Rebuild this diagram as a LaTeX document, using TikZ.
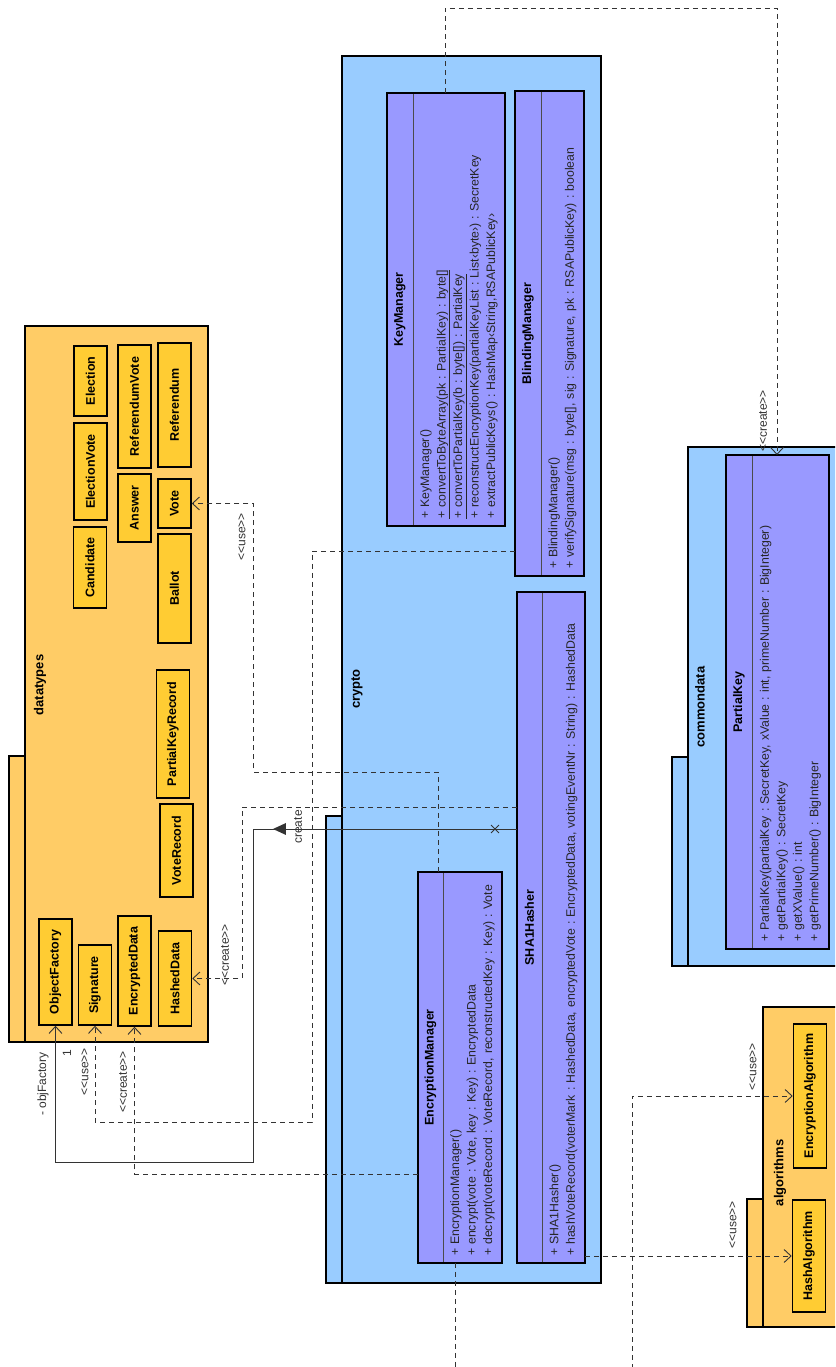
\documentclass[tikz,border=0pt]{standalone}
\usepackage{fontspec}
\setmainfont{Liberation Sans}
\newfontfamily\lblfont{Liberation Sans}
\usepackage{tikz}
\usetikzlibrary{arrows.meta,positioning,shapes.misc}
\definecolor{pkgorange}{HTML}{FFCC66}
\definecolor{clsyellow}{HTML}{FFCC33}
\definecolor{pkgblue}{HTML}{99CCFF}
\definecolor{clsviolet}{HTML}{9999FF}
\definecolor{linegray}{HTML}{333333}
\frenchspacing

\begin{document}
\begin{tikzpicture}[
  x=1pt,y=1pt,rotate=90,transform shape,
  font=\fontsize{12.3}{16.5}\selectfont,
  pkgbody/.style={draw=black,line width=1.6pt,anchor=south west,inner sep=0pt,outer sep=0pt},
  pkgtab/.style={pkgbody,minimum height=16pt},
  pkgname/.style={font=\fontsize{13}{15}\selectfont\bfseries},
  dtbox/.style={draw=black,line width=1.6pt,fill=clsyellow,minimum height=33pt,inner sep=0pt,font=\fontsize{12.5}{14}\selectfont\bfseries},
  hdr/.style={draw=black!70,line width=0.8pt,fill=clsviolet,minimum height=26pt,inner sep=0pt,outer sep=0pt,anchor=north west,font=\fontsize{12.5}{14}\selectfont\bfseries},
  ops/.style={draw=black!70,line width=0.8pt,fill=clsviolet,inner xsep=7pt,inner ysep=0pt,outer sep=0pt,anchor=north west,align=left,text=black!85},
  clsframe/.style={draw=black,line width=1.6pt},
  dep/.style={draw=linegray,line width=0.9pt,dash pattern=on 5pt off 4pt,-{Straight Barb[length=7pt,width=13pt]}},
  assoc/.style={draw=linegray,line width=0.9pt,-{Straight Barb[length=7pt,width=13pt]}},
  lbl/.style={font=\lblfont\fontsize{12}{14}\selectfont,text=linegray,inner sep=1pt}
]
\clip (0,0) rectangle (1367,835);
\fill[white] (0,0) rectangle (1367,835);

% packages
\node[pkgtab,fill=pkgorange,minimum width=286pt] (dttab) at (325,810) {};
\node[pkgbody,fill=pkgorange,minimum width=716pt,minimum height=183pt] (datatypes) at (325,627) {};
\node[pkgname] (dtname) at (682,795) {datatypes};
\node[pkgtab,fill=pkgblue,minimum width=467pt] (crtab) at (84,493) {};
\node[pkgbody,fill=pkgblue,minimum width=1227pt,minimum height=259pt] (crypto) at (84,234) {};
\node[pkgname] (crname) at (678,478) {crypto};
\node[pkgtab,fill=pkgblue,minimum width=209pt] (cdtab) at (401,147) {};
\node[pkgbody,fill=pkgblue,minimum width=519pt,minimum height=167pt] (commondata) at (401,-20) {};
\node[pkgname] (cdname) at (660,135) {commondata};
\node[pkgtab,fill=pkgorange,minimum width=128pt] (altab) at (40,72) {};
\node[pkgbody,fill=pkgorange,minimum width=320pt,minimum height=92pt] (algorithms) at (40,-20) {};
\node[pkgname] (alname) at (194,55) {algorithms};

% datatypes
\node[dtbox,minimum width=70pt] (election) at (986,744.5) {Election};
\node[dtbox,minimum width=97pt] (electionvote) at (895.5,744.5) {ElectionVote};
\node[dtbox,minimum width=81pt] (candidate) at (799.5,745) {Candidate};
\node[dtbox,minimum width=123pt] (refvote) at (960.5,700.5) {ReferendumVote};
\node[dtbox,minimum width=68pt] (answer) at (859,700.5) {Answer};
\node[dtbox,minimum width=124pt] (referendum) at (962,660.5) {Referendum};
\node[dtbox,minimum width=49pt] (vote) at (863.5,660.5) {Vote};
\node[dtbox,minimum width=109pt] (ballot) at (778.5,660.5) {Ballot};
\node[dtbox,minimum width=128pt] (pkrecord) at (633,662) {PartialKeyRecord};
\node[dtbox,minimum width=93pt] (voterecord) at (516.5,658.5) {VoteRecord};
\node[dtbox,minimum width=106pt] (objf) at (395,779.5) {ObjectFactory};
\node[dtbox,minimum width=80pt] (sig) at (382,740) {Signature};
\node[dtbox,minimum width=110pt] (encdata) at (396,700.5) {EncryptedData};
\node[dtbox,minimum width=95pt] (hashed) at (388.5,660) {HashedData};

% crypto
\node[hdr,minimum width=433pt] (kmhdr) at (841,448) {KeyManager};
\node[ops,text width=419pt,minimum height=92pt] (kmops) at (kmhdr.south west) {%
  \mbox{+ KeyManager()}\\
  \underline{+ convertToByteArray(pk : PartialKey) : byte[]}\\
  \underline{+ convertToPartialKey(b : byte[]) : PartialKey}\\
  \mbox{+ reconstructEncryptionKey(partialKeyList : List‹byte›) : SecretKey}\\
  \mbox{+ extractPublicKeys() : HashMap‹String,RSAPublicKey›}};
\draw[clsframe] (kmhdr.north west) rectangle (kmops.south east);

\node[hdr,minimum width=485pt] (bmhdr) at (791,320) {BlindingManager};
\node[ops,text width=471pt,minimum height=43pt] (bmops) at (bmhdr.south west) {%
  \mbox{+ BlindingManager()}\\
  \mbox{+ verifySignature(msg : byte[], sig : Signature, pk : RSAPublicKey) : boolean}};
\draw[clsframe] (bmhdr.north west) rectangle (bmops.south east);

\node[hdr,minimum width=671pt,minimum height=25pt] (shahdr) at (104,318) {SHA1Hasher};
\node[ops,text width=657pt,minimum height=43pt] (shaops) at (shahdr.south west) {%
  \mbox{+ SHA1Hasher()}\\
  \mbox{+ hashVoteRecord(voterMark : HashedData, encryptedVote : EncryptedData, votingEventNr : String) : HashedData}};
\draw[clsframe] (shahdr.north west) rectangle (shaops.south east);

\node[hdr,minimum width=391pt,minimum height=25pt] (emhdr) at (104,417) {EncryptionManager};
\node[ops,text width=377pt,minimum height=59pt] (emops) at (emhdr.south west) {%
  \mbox{+ EncryptionManager()}\\
  \mbox{+ encrypt(vote : Vote, key : Key) : EncryptedData}\\
  \mbox{+ decrypt(voteRecord : VoteRecord, reconstructedKey : Key) : Vote}};
\draw[clsframe] (emhdr.north west) rectangle (emops.south east);

% commondata
\node[hdr,minimum width=494pt] (pkhdr) at (418,109) {PartialKey};
\node[ops,text width=480pt,minimum height=77pt] (pkops) at (pkhdr.south west) {%
  \mbox{+ PartialKey(partialKey : SecretKey, xValue : int, primeNumber : BigInteger)}\\
  \mbox{+ getPartialKey() : SecretKey}\\
  \mbox{+ getXValue() : int}\\
  \mbox{+ getPrimeNumber() : BigInteger}};
\draw[clsframe] (pkhdr.north west) rectangle (pkops.south east);

% algorithms
\node[dtbox,minimum width=144pt] (encalg) at (271,25) {EncryptionAlgorithm};
\node[dtbox,minimum width=112pt] (hashalg) at (111,26) {HashAlgorithm};

% KeyManager creates PartialKey
\draw[dep] ([yshift=14pt]kmops.east) -- ++(85,0) |- ([yshift=13.5pt]pkops.east);
\node[lbl] (lkmpk) at (946,72) {<<create>>};

% association to ObjectFactory
\draw[assoc] ([xshift=98.5pt]shahdr.north) |- (205,582) |- (objf.west);
\node[cross out,draw=linegray,line width=0.9pt,minimum size=7pt,inner sep=0pt] (xmark) at (538,340) {};
\fill[linegray] (532,549) -- (544,549) -- (538,562) -- cycle;
\node[lbl] (lcreate) at (540,537) {create};
\node[lbl] (lobjf) at (283,792) {- objFactory};
\node[lbl] (lone) at (314,768) {1};

% EncryptionManager uses Vote
\draw[dep] ([yshift=-7.5pt]emhdr.east) -- ++(100,0) |- ([yshift=-62pt]vote.south) -- (vote.south);
\node[lbl] (lemvote) at (830,593) {<<use>>};

% BlindingManager uses Signature
\draw[dep] ([xshift=-217.5pt]bmhdr.north) |- (245,523) |- (sig.west);
\node[lbl] (lbmsig) at (295,750) {<<use>>};

% SHA1Hasher creates HashedData
\draw[dep] ([xshift=120.5pt]shahdr.north) |- ([yshift=-50pt]hashed.south) -- (hashed.south);
\node[lbl] (lshahd) at (412,610) {<<create>>};

% EncryptionManager creates EncryptedData
\draw[dep] ([xshift=-106.5pt]emhdr.north) |- (encdata.west);
\node[lbl] (lemed) at (285,712) {<<create>>};

% SHA1Hasher uses HashAlgorithm
\draw[dep] (hashalg.north |- shaops.south) -- (hashalg.north);
\node[lbl] (lshaha) at (142,102) {<<use>>};

% lines leaving the view
\coordinate (encsrc) at (-20,203);
\draw[dep] (encsrc) -| (encalg.north);
\node[lbl] (lencalg) at (300,82) {<<use>>};
\coordinate (emout) at (-20,380);
\draw[dep,-] ([yshift=17.5pt]emops.west) -- (emout);
\end{tikzpicture}
\end{document}
